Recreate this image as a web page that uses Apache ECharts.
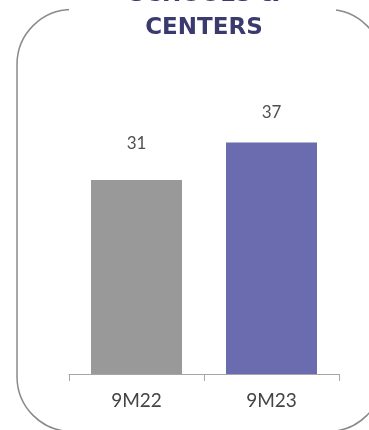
<!DOCTYPE html>
<html>
<head>
<meta charset="utf-8">
<script src="https://cdn.jsdelivr.net/npm/echarts@6/dist/echarts.min.js"></script>
<style>
  html, body { margin: 0; padding: 0; background: #ffffff; }
  #chart { width: 369px; height: 430px; }
</style>
</head>
<body>
<div id="chart"></div>
<script>
// Periods shown on the x axis
const categories = ['9M22', '9M23'];
// Number of schools & centers per period
const values = [31, 37];
// Bar colours per period
const barColors = ['#999999', '#6b6baf'];
// Heading, two lines (the first line runs off the top edge)
const titleLines = ['SCHOOLS &', 'CENTERS'];

const chart = echarts.init(document.getElementById('chart'), null, { renderer: 'canvas' });

const labelDistances = [28, 21];
const titleFont = 'bold 23px "DejaVu Sans", sans-serif';

chart.setOption({
  animation: false,
  backgroundColor: '#ffffff',
  graphic: [
    {
      type: 'rect',
      z: 0,
      shape: { x: 17, y: 9.5, width: 366, height: 422, r: 55 },
      style: { fill: 'none', stroke: '#8a8a8a', lineWidth: 1.5 }
    },
    {
      type: 'rect',
      z: 1,
      shape: { x: 69, y: 0, width: 267, height: 24 },
      style: { fill: '#ffffff' }
    },
    {
      type: 'text',
      z: 2,
      style: {
        text: titleLines[0],
        x: 204, y: -5,
        textAlign: 'center',
        textVerticalAlign: 'middle',
        fill: '#3b3a6e',
        font: titleFont
      }
    },
    {
      type: 'text',
      z: 2,
      style: {
        text: titleLines[1],
        x: 204, y: 28,
        textAlign: 'center',
        textVerticalAlign: 'middle',
        fill: '#3b3a6e',
        font: titleFont
      }
    }
  ],
  grid: { left: 69, right: 30, top: 61, bottom: 56, containLabel: false },
  xAxis: {
    type: 'category',
    data: categories,
    axisLine: { show: true, lineStyle: { color: '#a6a6a6', width: 1 } },
    axisTick: { show: true, length: 7, lineStyle: { color: '#a6a6a6' } },
    axisLabel: {
      color: '#444444',
      fontSize: 19,
      fontFamily: 'Lato, "Noto Sans", sans-serif',
      margin: 17
    }
  },
  yAxis: {
    type: 'value',
    min: 0,
    max: 50,
    show: false,
    splitLine: { show: false }
  },
  series: [{
    type: 'bar',
    barWidth: 91,
    data: values.map((v, i) => ({
      value: v,
      itemStyle: { color: barColors[i] },
      label: { distance: labelDistances[i] }
    })),
    label: {
      show: true,
      position: 'top',
      color: '#505050',
      fontSize: 17,
      fontFamily: 'Lato, "Noto Sans", sans-serif'
    }
  }]
});
</script>
</body>
</html>
